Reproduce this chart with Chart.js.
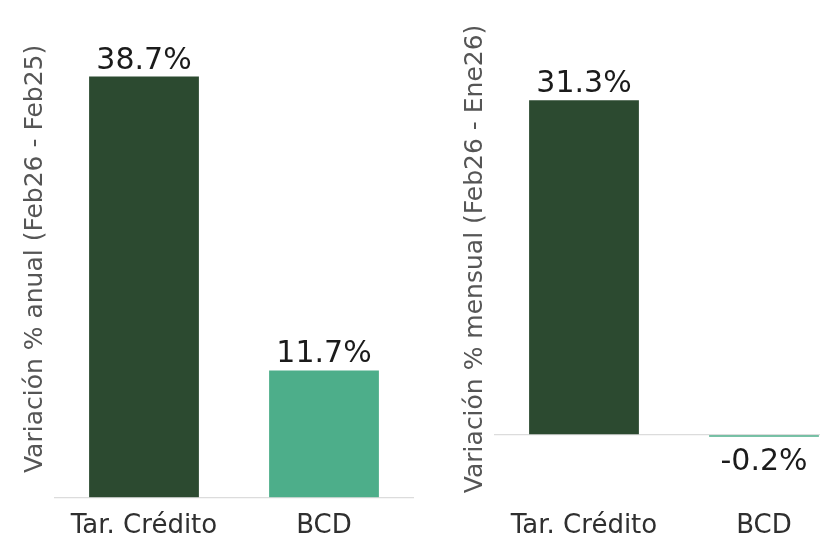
<!DOCTYPE html>
<html>
<head>
<meta charset="utf-8">
<script src="https://cdn.jsdelivr.net/npm/chart.js@4.4.1/dist/chart.umd.min.js"></script>
<style>
  html, body { margin: 0; padding: 0; background: #fff; overflow: hidden; width: 820px; height: 547px; }
  .panel { position: absolute; top: 0; width: 430px; height: 547px; }
  #left { left: 0; }
  #right { left: 440px; }
</style>
</head>
<body>
<div class="panel" id="left"><canvas id="chartAnual"></canvas></div>
<div class="panel" id="right"><canvas id="chartMensual"></canvas></div>
<script>
const categories = ['Tar. Crédito', 'BCD'];
const anualValues = [38.7, 11.7];
const mensualValues = [31.3, -0.2];
const barColors = ['#2c4a30', '#4dae8a'];
const FONT = "'DejaVu Sans', sans-serif";

const valueLabels = {
    id: 'valueLabels',
    afterDatasetsDraw(chart) {
        const ctx = chart.ctx;
        const meta = chart.getDatasetMeta(0);
        const values = chart.data.datasets[0].data;
        ctx.save();
        ctx.font = '30px ' + FONT;
        ctx.fillStyle = '#1b1b1b';
        ctx.textAlign = 'center';
        ctx.textBaseline = 'alphabetic';
        meta.data.forEach((bar, i) => {
            const v = values[i];
            const text = v.toFixed(1) + '%';
            if (v >= 0) {
                ctx.fillText(text, bar.x, bar.y - 8);
            } else {
                ctx.fillText(text, bar.x, bar.base + 35);
            }
        });
        ctx.restore();
    }
};

function createBarChart(canvasId, values, title, yMin, yMax) {
    const ctx = document.getElementById(canvasId);
    return new Chart(ctx, {
        type: 'bar',
        data: {
            labels: categories,
            datasets: [{
                data: values,
                backgroundColor: barColors,
                borderWidth: 0,
                barPercentage: 1,
                categoryPercentage: 0.61
            }]
        },
        options: {
            responsive: true,
            maintainAspectRatio: false,
            animation: false,
            layout: { padding: { top: 20, left: 20, right: 16, bottom: 0 } },
            plugins: {
                legend: { display: false },
                tooltip: { enabled: false }
            },
            scales: {
                x: {
                    grid: { display: false },
                    border: { display: false },
                    ticks: { color: '#2f2f2f', font: { family: FONT, size: 26 }, padding: 5 }
                },
                y: {
                    min: yMin,
                    max: yMax,
                    afterBuildTicks: axis => { axis.ticks = [{ value: 0 }]; },
                    grid: { color: '#dcdcdc', lineWidth: 1.2, drawTicks: false },
                    border: { display: false },
                    ticks: { display: false },
                    title: {
                        display: true,
                        text: title,
                        color: '#555555',
                        font: { family: FONT, size: 25 },
                        padding: { top: 0, bottom: 4 }
                    }
                }
            }
        },
        plugins: [valueLabels]
    });
}

createBarChart('chartAnual', anualValues, 'Variación % anual (Feb26 - Feb25)', 0, 43.9);
createBarChart('chartMensual', mensualValues, 'Variación % mensual (Feb26 - Ene26)', -5.9, 38.8);
</script>
</body>
</html>
